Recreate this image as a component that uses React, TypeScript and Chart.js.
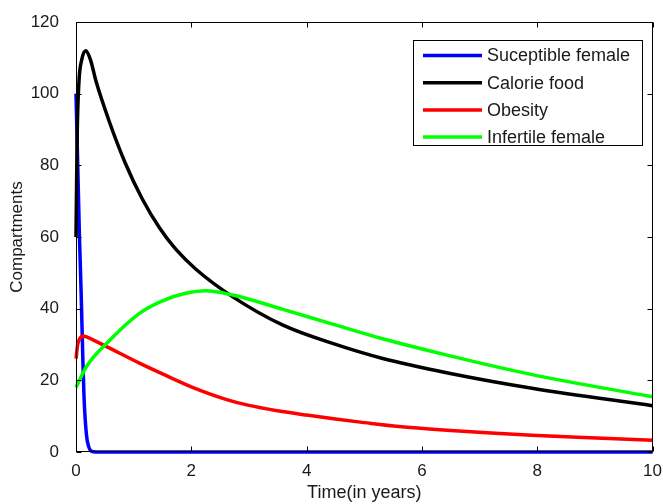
import React, { useEffect, useRef } from "react";
import { Chart, registerables } from "chart.js";

Chart.register(...registerables);

// ---- data ----
const seriesLabels = ["Suceptible female", "Calorie food", "Obesity", "Infertile female"];
const seriesColors = ["#0000ff", "#000000", "#ff0000", "#00ff00"];

const susceptibleT = [0, 0.03, 0.06, 0.09, 0.12, 0.14, 0.18, 0.22, 0.26, 0.35, 1, 3, 5, 7, 10];
const susceptibleV = [100, 80, 60, 44, 25, 15, 5, 1.5, 0.3, 0, 0, 0, 0, 0, 0];

const calorieT = [0, 0.02, 0.05, 0.1, 0.17, 0.25, 0.35, 0.58, 0.85, 1.15, 1.45, 1.73, 2.08, 2.72, 3.59, 4.45, 5.32, 6.47, 7.91, 10];
const calorieV = [60, 88, 103, 109.5, 112, 109.5, 103.3, 92.1, 80.8, 70.6, 62.5, 56.6, 51.0, 43.3, 35.4, 30.3, 26.1, 22.0, 17.8, 12.9];

const obesityT = [0, 0.03, 0.07, 0.12, 0.2, 0.53, 1.1, 1.5, 2.0, 2.6, 3.0, 3.5, 4.0, 4.5, 5.0, 5.6, 6.5, 7.2, 7.91, 8.7, 10];
const obesityV = [26, 30, 31.8, 32.4, 32, 29.4, 24.8, 21.8, 18.2, 14.7, 13.0, 11.5, 10.3, 9.2, 8.2, 7.1, 6.0, 5.3, 4.7, 4.1, 3.3];

const infertileT = [0, 0.18, 0.53, 1.1, 1.5, 1.9, 2.25, 2.72, 3.59, 4.45, 5.32, 6.47, 7.91, 10];
const infertileV = [18, 23.8, 30.3, 38.7, 42.2, 44.3, 45, 43.8, 39.8, 35.7, 31.6, 26.9, 21.6, 15.4];

const xTicks = [0, 2, 4, 6, 8, 10];
const yTicks = [0, 20, 40, 60, 80, 100, 120];
const xTitle = "Time(in years)";
const yTitle = "Compartments";

const FONT = "'Liberation Sans', Arial, Helvetica, sans-serif";
const TEXT = "#1a1a1a";

const toPts = (t: number[], v: number[]) => t.map((x, i) => ({ x, y: v[i] }));

const framePlugin = {
  id: "matlabFrame",
  afterDraw(chart: any) {
    const { ctx, chartArea } = chart;
    const { left, right, top, bottom } = chartArea;
    const xs = chart.scales.x;
    const ys = chart.scales.y;
    ctx.save();
    ctx.strokeStyle = "#000";
    ctx.lineWidth = 1;
    const L = Math.round(left) + 0.5;
    const R = Math.round(right) - 0.5;
    const T = Math.round(top) + 0.5;
    const B = Math.round(bottom) - 0.5;
    ctx.strokeRect(L, T, R - L, B - T);
    const tl = 5;
    ctx.beginPath();
    xTicks.forEach((v) => {
      const px = Math.round(xs.getPixelForValue(v)) + 0.5;
      ctx.moveTo(px, B);
      ctx.lineTo(px, B - tl);
      ctx.moveTo(px, T);
      ctx.lineTo(px, T + tl);
    });
    yTicks.forEach((v) => {
      const py = Math.round(ys.getPixelForValue(v)) + 0.5;
      ctx.moveTo(L, py);
      ctx.lineTo(L + tl, py);
      ctx.moveTo(R, py);
      ctx.lineTo(R - tl, py);
    });
    ctx.stroke();

    // legend box
    const bx = 413.5, by = 40.5, bw = 229, bh = 105;
    ctx.fillStyle = "#fff";
    ctx.fillRect(bx, by, bw, bh);
    ctx.strokeRect(bx, by, bw, bh);
    ctx.font = `18px ${FONT}`;
    ctx.textBaseline = "middle";
    ctx.textAlign = "left";
    chart.data.datasets.forEach((ds: any, i: number) => {
      const y = 55.5 + i * 27.2;
      ctx.strokeStyle = ds.borderColor;
      ctx.lineWidth = 3.5;
      ctx.beginPath();
      ctx.moveTo(423, y);
      ctx.lineTo(482, y);
      ctx.stroke();
      ctx.fillStyle = TEXT;
      ctx.fillText(ds.label, 487, y + 1);
    });
    ctx.restore();
  },
};

export default function App() {
  const ref = useRef<HTMLCanvasElement>(null);

  useEffect(() => {
    document.body.style.margin = "0";
    const canvas = ref.current!;
    const seriesT = [susceptibleT, calorieT, obesityT, infertileT];
    const seriesV = [susceptibleV, calorieV, obesityV, infertileV];
    const chart = new Chart(canvas, {
      type: "line",
      data: {
        datasets: seriesLabels.map((label, i) => ({
          label,
          data: toPts(seriesT[i], seriesV[i]),
          borderColor: seriesColors[i],
          backgroundColor: seriesColors[i],
          borderWidth: 3.5,
          pointRadius: 0,
          fill: false,
          cubicInterpolationMode: "monotone" as const,
          clip: false as any,
          order: seriesLabels.length - i,
        })),
      },
      options: {
        responsive: false,
        animation: false,
        devicePixelRatio: 1,
        layout: { padding: { top: 22, right: 9, left: 0, bottom: 0 } },
        plugins: { legend: { display: false }, tooltip: { enabled: false } },
        scales: {
          x: {
            type: "linear",
            min: 0,
            max: 10,
            afterBuildTicks: (s: any) => {
              s.ticks = xTicks.map((v) => ({ value: v }));
            },
            afterFit: (s: any) => {
              s.height = 52;
            },
            ticks: { font: { family: FONT, size: 17 }, color: TEXT, padding: 1, maxRotation: 0 },
            grid: { display: false },
            border: { display: false },
            title: { display: true, text: xTitle, font: { family: FONT, size: 18 }, color: TEXT, padding: { top: 0, bottom: 0 } },
          },
          y: {
            type: "linear",
            min: 0,
            max: 120,
            afterBuildTicks: (s: any) => {
              s.ticks = yTicks.map((v) => ({ value: v }));
            },
            afterFit: (s: any) => {
              s.width = 76;
            },
            ticks: { font: { family: FONT, size: 17 }, color: TEXT, padding: 9 },
            grid: { display: false },
            border: { display: false },
            title: { display: true, text: yTitle, font: { family: FONT, size: 17 }, color: TEXT, padding: { top: 7, bottom: 0 } },
          },
        },
      },
      plugins: [framePlugin],
    });
    return () => chart.destroy();
  }, []);

  return (
    <div style={{ position: "absolute", left: 0, top: 0, width: 663, height: 504, background: "#fff" }}>
      <canvas ref={ref} width={663} height={504} style={{ width: 663, height: 504, display: "block" }} />
    </div>
  );
}
